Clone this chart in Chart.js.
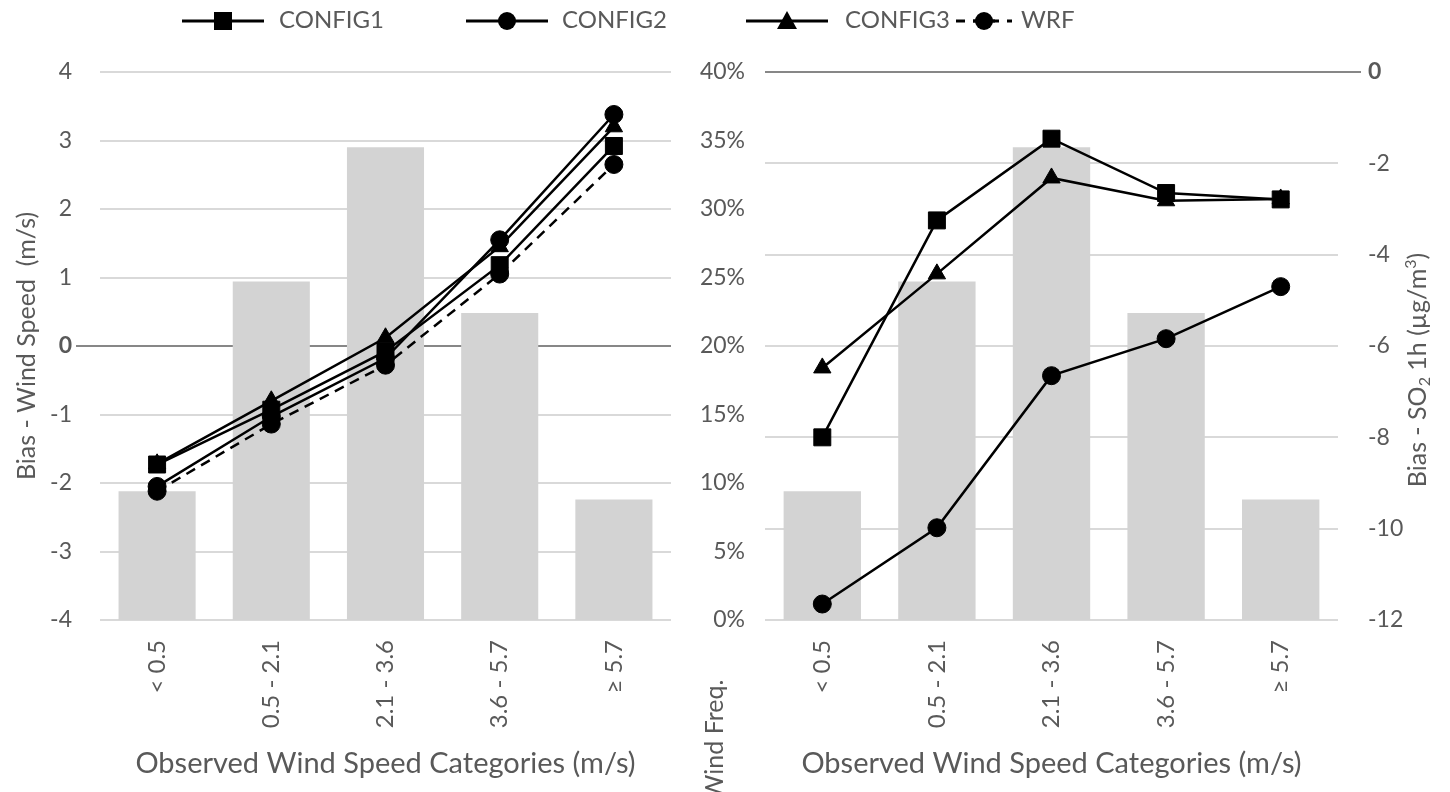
<!DOCTYPE html>
<html>
<head>
<meta charset="utf-8">
<script src="https://cdn.jsdelivr.net/npm/chart.js"></script>
<style>
  html, body { margin: 0; padding: 0; background: #fff; }
  #wrap { position: relative; width: 1450px; height: 792px; overflow: hidden; font-family: Lato, "Open Sans", sans-serif; }
  #leftBox { position: absolute; left: 0; top: 0; width: 700px; height: 792px; }
  #rightBox { position: absolute; left: 700px; top: 0; width: 750px; height: 792px; }
  .sym { position: absolute; top: 10px; }
  .lbl { position: absolute; top: 5px; font-size: 24px; color: #595959; line-height: 28px; }
</style>
</head>
<body>
<div id="wrap">
  <div id="leftBox"><canvas id="leftChart"></canvas></div>
  <div id="rightBox"><canvas id="rightChart"></canvas></div>

  <!-- legend (shared by both panels) -->
  <svg class="sym" style="left:182px" width="82" height="22">
    <line x1="0" y1="11" x2="82" y2="11" stroke="#000" stroke-width="3"/>
    <rect x="32" y="2" width="18" height="18" fill="#000"/>
  </svg>
  <div class="lbl" style="left:279px">CONFIG1</div>
  <svg class="sym" style="left:466px" width="82" height="22">
    <line x1="0" y1="11" x2="82" y2="11" stroke="#000" stroke-width="3"/>
    <circle cx="41" cy="11" r="9" fill="#000"/>
  </svg>
  <div class="lbl" style="left:562px">CONFIG2</div>
  <svg class="sym" style="left:746px" width="82" height="22">
    <line x1="0" y1="11" x2="82" y2="11" stroke="#000" stroke-width="3"/>
    <polygon points="41,1 51,19 31,19" fill="#000"/>
  </svg>
  <div class="lbl" style="left:845px">CONFIG3</div>
  <svg class="sym" style="left:956px" width="56" height="22">
    <line x1="0" y1="11" x2="56" y2="11" stroke="#000" stroke-width="3" stroke-dasharray="9,8"/>
    <line x1="17" y1="11" x2="39" y2="11" stroke="#000" stroke-width="3"/>
    <circle cx="28" cy="11" r="9" fill="#000"/>
  </svg>
  <div class="lbl" style="left:1021px">WRF</div>
</div>

<script>
// wind speed categories (x axis)
const categories = ['< 0.5', '0.5 - 2.1', '2.1 - 3.6', '3.6 - 5.7', '≥ 5.7'];
// observed wind frequency (%) per category, grey bars
const windFreq = [9.4, 24.7, 34.5, 22.4, 8.8];

// left panel: bias of wind speed (m/s)
const wsConfig1 = [-1.73, -0.93, -0.08, 1.18, 2.92];
const wsConfig2 = [-2.05, -1.03, -0.18, 1.55, 3.38];
const wsConfig3 = [-1.72, -0.80, 0.12, 1.45, 3.20];
const wsWrf     = [-2.12, -1.14, -0.28, 1.05, 2.65];

// right panel: bias of SO2 1h (ug/m3)
const so2Config1 = [-8.0, -3.25, -1.46, -2.65, -2.79];
const so2Config2 = [-11.65, -9.98, -6.65, -5.84, -4.70];
const so2Config3 = [-6.48, -4.42, -2.32, -2.82, -2.78];

// axis ticks
const wsTicks = { min: -4, max: 4, step: 1 };
const so2Ticks = { min: -12, max: 0, step: 2 };
const freqTicks = { min: 0, max: 40, step: 5 };

const GREY_TXT = '#595959';
const GRID = '#d9d9d9';
const ZERO = '#878787';
const FONT = 'Lato, "Open Sans", sans-serif';

const sideTitles = {
  id: 'sideTitles',
  afterDraw(chart, args, opts) {
    const ctx = chart.ctx;
    (opts.items || []).forEach(it => {
      ctx.save();
      ctx.translate(it.x, it.y);
      ctx.rotate(-Math.PI / 2);
      ctx.fillStyle = GREY_TXT;
      ctx.textBaseline = 'middle';
      ctx.textAlign = 'left';
      const big = `${it.size}px ${FONT}`;
      const small = `${Math.round(it.size * 0.62)}px ${FONT}`;
      let total = 0;
      it.parts.forEach(p => {
        ctx.font = p.sub || p.sup ? small : big;
        total += ctx.measureText(p.t).width;
      });
      let cx = -total / 2;
      it.parts.forEach(p => {
        ctx.font = p.sub || p.sup ? small : big;
        const dy = p.sub ? it.size * 0.28 : p.sup ? -it.size * 0.3 : 0;
        ctx.fillText(p.t, cx, dy);
        cx += ctx.measureText(p.t).width;
      });
      ctx.restore();
    });
  }
};

function lineSet(label, data, style, axis, extra) {
  return Object.assign({
    type: 'line',
    label: label,
    data: data,
    yAxisID: axis,
    borderColor: '#000',
    backgroundColor: '#000',
    borderWidth: 2.5,
    pointStyle: style,
    pointRadius: style === 'rect' ? 12 : style === 'triangle' ? 10 : 9,
    pointBackgroundColor: '#000',
    pointBorderColor: '#000',
    pointBorderWidth: 1,
    tension: 0,
    order: 1
  }, extra || {});
}

function barSet(axis) {
  return {
    type: 'bar',
    label: 'Wind Freq.',
    data: windFreq,
    yAxisID: axis,
    backgroundColor: '#d3d3d3',
    categoryPercentage: 1,
    barPercentage: 0.675,
    order: 10
  };
}

const xScale = {
  grid: { display: false },
  border: { display: false },
  ticks: { color: GREY_TXT, font: { family: FONT, size: 24 }, minRotation: 90, maxRotation: 90, padding: 12 },
  title: { display: true, text: 'Observed Wind Speed Categories (m/s)', color: GREY_TXT,
           font: { family: FONT, size: 29 }, padding: { top: 0, bottom: 11 } },
  afterFit: s => { s.height = 172; }
};

const zeroGrid = {
  color: c => (c.tick && c.tick.value === 0 ? ZERO : GRID),
  tickColor: c => (c.tick && c.tick.value === 0 ? ZERO : 'rgba(0,0,0,0)'),
  lineWidth: 2,
  tickWidth: 2,
  drawTicks: true
};

const tickFont = c => ({ family: FONT, size: 23, weight: c.tick && c.tick.value === 0 ? 'bold' : 'normal' });

Chart.defaults.animation = false;

new Chart(document.getElementById('leftChart'), {
  data: {
    labels: categories,
    datasets: [
      lineSet('CONFIG1', wsConfig1, 'rect', 'y'),
      lineSet('CONFIG2', wsConfig2, 'circle', 'y'),
      lineSet('CONFIG3', wsConfig3, 'triangle', 'y'),
      lineSet('WRF', wsWrf, 'circle', 'y', { borderDash: [10, 7] }),
      barSet('yFreq')
    ]
  },
  options: {
    responsive: true,
    maintainAspectRatio: false,
    devicePixelRatio: 1,
    layout: { padding: { top: 72, right: 29, bottom: 0, left: 0 } },
    plugins: { legend: { display: false }, tooltip: { enabled: false } },
    scales: {
      x: xScale,
      y: {
        position: 'left',
        min: wsTicks.min, max: wsTicks.max,
        ticks: { stepSize: wsTicks.step, color: GREY_TXT, font: tickFont, padding: 4 },
        grid: Object.assign({ tickLength: 24 }, zeroGrid),
        border: { display: false },
        title: { display: true, text: 'Bias - Wind Speed  (m/s)', color: GREY_TXT,
                 font: { family: FONT, size: 25 }, padding: { top: 12, bottom: 0 } },
        afterFit: s => { s.width = 100; }
      },
      yFreq: { display: false, min: freqTicks.min, max: freqTicks.max }
    }
  }
});

new Chart(document.getElementById('rightChart'), {
  data: {
    labels: categories,
    datasets: [
      lineSet('CONFIG1', so2Config1, 'rect', 'y'),
      lineSet('CONFIG2', so2Config2, 'circle', 'y'),
      lineSet('CONFIG3', so2Config3, 'triangle', 'y'),
      barSet('yFreq')
    ]
  },
  options: {
    responsive: true,
    maintainAspectRatio: false,
    devicePixelRatio: 1,
    layout: { padding: { top: 72, right: 0, bottom: 0, left: 0 } },
    plugins: {
      legend: { display: false },
      tooltip: { enabled: false },
      sideTitles: {
        items: [
          { x: 15, y: 740, size: 25, parts: [{ t: 'Wind Freq.' }] },
          { x: 718, y: 370, size: 25, parts: [{ t: 'Bias - SO' }, { t: '2', sub: true }, { t: ' 1h (µg/m' }, { t: '3', sup: true }, { t: ')' }] }
        ]
      }
    },
    scales: {
      x: xScale,
      yFreq: {
        position: 'left',
        min: freqTicks.min, max: freqTicks.max,
        ticks: { stepSize: freqTicks.step, color: GREY_TXT, font: { family: FONT, size: 23 }, padding: 12,
                 callback: v => v + '%' },
        grid: { display: false },
        border: { display: false },
        afterFit: s => { s.width = 65; }
      },
      y: {
        position: 'right',
        min: so2Ticks.min, max: so2Ticks.max,
        ticks: { stepSize: so2Ticks.step, color: GREY_TXT, font: tickFont, padding: 7 },
        grid: Object.assign({ tickLength: 23 }, zeroGrid),
        border: { display: false },
        afterFit: s => { s.width = 112; }
      }
    }
  },
  plugins: [sideTitles]
});
</script>
</body>
</html>
